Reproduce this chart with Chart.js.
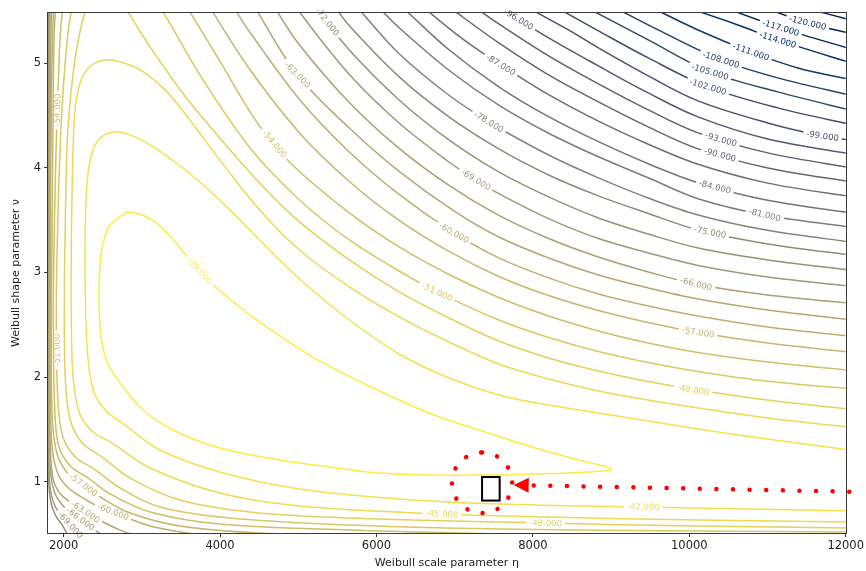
<!DOCTYPE html>
<html>
<head>
<meta charset="utf-8">
<script src="https://cdn.jsdelivr.net/npm/chart.js@4.4.1/dist/chart.umd.min.js"></script>
<style>
  html, body { margin: 0; padding: 0; background: #fff; }
  #wrap { width: 866px; height: 571px; }
</style>
</head>
<body>
<div id="wrap"><canvas id="c" width="866" height="571"></canvas></div>
<script>
// Log-likelihood contour levels of the Weibull fit (scale eta, shape nu)
const levels = [-39, -42, -45, -48, -51, -54, -57, -60, -63, -66, -69, -72, -75, -78, -81, -84,
                -87, -90, -93, -96, -99, -102, -105, -108, -111, -114, -117, -120, -123];

// Contour paths as [eta, nu] pairs
const c39 = [[2812,3.579],[2977,3.559],[3168,3.483],[3359,3.349],[3551,3.177],[3742,3.014],[3971,2.842],[4251,2.670],[4506,2.527],[5143,2.211],[5907,1.915],[6672,1.657],[7309,1.494],[7946,1.342],[8583,1.208],[9003,1.121],[8710,1.093],[8073,1.074],[7309,1.064],[6672,1.064],[6035,1.083],[5398,1.141],[4761,1.208],[3996,1.322],[3398,1.494],[3015,1.686],[2761,1.906],[2557,2.144],[2468,2.450],[2455,2.928],[2493,3.244],[2595,3.454],[2812,3.579]];
const c42 = [[12150,1.294],[11003,1.408],[10112,1.504],[9475,1.580],[8838,1.657],[8201,1.733],[7564,1.829],[6927,1.991],[6290,2.221],[5653,2.546],[5016,2.938],[4506,3.311],[4124,3.598],[3742,3.865],[3423,4.056],[3105,4.219],[2850,4.315],[2633,4.343],[2468,4.286],[2366,4.152],[2302,3.884],[2276,3.406],[2276,2.833],[2302,2.259],[2378,1.877],[2531,1.686],[2786,1.542],[3232,1.303],[3996,1.093],[5016,0.930],[6290,0.835],[7564,0.787],[9347,0.758],[10749,0.739],[12150,0.720]];
const c45 = [[12150,1.513],[11003,1.609],[10112,1.705],[9475,1.781],[8838,1.867],[8201,1.982],[7564,2.125],[6927,2.336],[6290,2.575],[5653,2.862],[5016,3.215],[4506,3.598],[3996,4.076],[3614,4.458],[3296,4.745],[2977,4.936],[2722,5.013],[2557,5.032],[2404,5.003],[2276,4.917],[2187,4.745],[2136,4.458],[2111,3.884],[2098,3.215],[2098,2.546],[2124,1.972],[2213,1.638],[2378,1.475],[2620,1.370],[3105,1.131],[3996,0.892],[5016,0.768],[6837,0.691],[8201,0.663],[10112,0.634],[12150,0.615]];
const c48 = [[12150,1.686],[11003,1.781],[10112,1.877],[9475,1.958],[8838,2.058],[8201,2.183],[7564,2.345],[6927,2.565],[6290,2.814],[5653,3.120],[5016,3.483],[4506,3.856],[3996,4.286],[3551,4.687],[3105,5.156],[2824,5.490],[2659,5.701],[2404,5.701],[2276,5.490],[2187,5.223],[2111,4.840],[2047,4.267],[2022,3.502],[2009,2.737],[2022,1.972],[2085,1.590],[2238,1.370],[2493,1.236],[2850,1.035],[3487,0.825],[4379,0.711],[5653,0.653],[8162,0.605],[10112,0.577],[12150,0.557]];
const c51 = [[12150,1.883],[11003,1.960],[10112,2.054],[9475,2.140],[8838,2.245],[8201,2.379],[7564,2.546],[6774,2.814],[6290,3.014],[5653,3.311],[5016,3.693],[4379,4.195],[3742,4.888],[3270,5.490],[3041,5.720],[2213,5.720],[2098,5.490],[2034,5.127],[1971,4.458],[1933,3.693],[1907,2.737],[1920,1.877],[1983,1.447],[2149,1.236],[2391,1.121],[2722,0.940],[3232,0.758],[4124,0.653],[5653,0.586],[7564,0.548],[10112,0.529],[12150,0.519]];
const c54 = [[12150,2.058],[11003,2.144],[10112,2.235],[9475,2.326],[8838,2.441],[8201,2.584],[7564,2.761],[6927,2.981],[6290,3.244],[5653,3.569],[4888,4.056],[4468,4.439],[3996,5.022],[3614,5.490],[3423,5.720],[2085,5.720],[1983,5.490],[1933,4.840],[1894,3.884],[1869,2.737],[1882,1.781],[1933,1.351],[2085,1.150],[2315,1.035],[2595,0.883],[3105,0.711],[3996,0.596],[5653,0.538],[7564,0.500]];
const c57 = [[12150,2.231],[11003,2.326],[10112,2.426],[9475,2.522],[8838,2.637],[8201,2.780],[7564,2.962],[6927,3.201],[6290,3.497],[5653,3.870],[5016,4.334],[4379,4.942],[3907,5.490],[3742,5.720],[1958,5.720],[1894,5.490],[1869,4.840],[1856,3.693],[1843,2.450],[1856,1.590],[1920,1.255],[2060,1.074],[2251,0.969],[2468,0.854],[2850,0.701],[3487,0.577],[4506,0.510],[6290,0.471]];
const c60 = [[12150,2.383],[11003,2.479],[10112,2.584],[9475,2.680],[8838,2.794],[8201,2.948],[7564,3.139],[6990,3.378],[6290,3.746],[5653,4.152],[5016,4.654],[4379,5.299],[4213,5.490],[4060,5.720],[1894,5.720],[1869,5.490],[1843,4.649],[1831,3.215],[1831,1.781],[1856,1.303],[1933,1.064],[2060,0.940],[2187,0.873],[2404,0.777],[2633,0.711],[3105,0.577],[3742,0.490]];
const c63 = [[12150,2.541],[11003,2.642],[10112,2.747],[9475,2.852],[8838,2.976],[8201,3.139],[7564,3.339],[6990,3.588],[6290,3.966],[5653,4.381],[4990,4.888],[4481,5.490],[4315,5.720],[1869,5.720],[1843,5.490],[1824,4.171],[1818,2.259],[1831,1.303],[1869,1.016],[1971,0.873],[2111,0.796],[2340,0.682],[2722,0.538],[3105,0.443]];
const c66 = [[12150,2.699],[11003,2.785],[10112,2.885],[9475,3.005],[8838,3.148],[8201,3.325],[7564,3.545],[6927,3.832],[6290,4.186],[5653,4.625],[5016,5.175],[4735,5.490],[4570,5.720],[1843,5.720],[1824,5.490],[1811,3.693],[1811,1.590],[1831,1.112],[1882,0.902],[1983,0.777],[2085,0.711],[2340,0.567],[2595,0.443]];
const c69 = [[12150,2.862],[11003,2.957],[10112,3.067],[9475,3.187],[8838,3.324],[8201,3.515],[7564,3.754],[7271,3.886],[6927,4.056],[6290,4.429],[5653,4.893],[5016,5.490],[4824,5.720],[1831,5.720],[1813,5.490],[1808,3.215],[1809,1.208],[1831,0.921],[1894,0.758],[1983,0.672],[2149,0.538],[2340,0.424]];
const c72 = [[12150,3.014],[11003,3.120],[10112,3.234],[9475,3.368],[8838,3.521],[8201,3.722],[7564,3.961],[6927,4.267],[6290,4.649],[5653,5.127],[5271,5.490],[5079,5.720],[1818,5.720],[1806,5.490],[1806,1.112],[1831,0.825],[1894,0.682],[1983,0.586],[2085,0.443]];
const c75 = [[12150,3.158],[11003,3.273],[10112,3.406],[9475,3.564],[8838,3.732],[8201,3.932],[7564,4.181],[6927,4.487],[6290,4.869],[5653,5.357],[5462,5.548]];
const c78 = [[12150,3.282],[11003,3.403],[10112,3.550],[9475,3.712],[8838,3.904],[8201,4.123],[7564,4.381],[7436,4.439],[6927,4.694],[6290,5.091],[5806,5.490],[5716,5.567]];
const c81 = [[12150,3.426],[11003,3.544],[10112,3.705],[9475,3.905],[8838,4.106],[8201,4.331],[7564,4.599],[6927,4.933],[6290,5.339],[6009,5.548]];
const c84 = [[12150,3.561],[11003,3.690],[10112,3.858],[9475,4.039],[8838,4.250],[8201,4.489],[7564,4.775],[6927,5.129],[6395,5.490],[6290,5.557]];
const c87 = [[12150,3.716],[11003,3.854],[10112,4.034],[9475,4.226],[8838,4.446],[8201,4.699],[7589,4.984],[7118,5.223],[6672,5.490],[6570,5.567]];
const c90 = [[12150,3.856],[11003,3.999],[10112,4.181],[9475,4.391],[8838,4.630],[8201,4.888],[7564,5.194],[7016,5.490],[6888,5.567]];
const c93 = [[12150,3.990],[11003,4.143],[10112,4.334],[9475,4.554],[8838,4.802],[8201,5.070],[7564,5.376],[7347,5.490],[7232,5.567]];
const c96 = [[12150,4.123],[11003,4.276],[10112,4.487],[9475,4.716],[8838,4.974],[8201,5.242],[7666,5.490],[7525,5.567]];
const c99 = [[12150,4.257],[11704,4.305],[11003,4.429],[10112,4.640],[9475,4.879],[8838,5.146],[8455,5.318],[7895,5.548]];
const c102 = [[12150,4.401],[11131,4.573],[10239,4.774],[9475,5.051],[8838,5.309],[8264,5.548]];
const c105 = [[12150,4.535],[11131,4.726],[10265,4.917],[9475,5.223],[8646,5.548]];
const c108 = [[12150,4.678],[11131,4.860],[10405,5.032],[9602,5.318],[9003,5.548]];
const c111 = [[12150,4.831],[11386,4.955],[10787,5.108],[10112,5.318],[9475,5.548]];
const c114 = [[12150,4.984],[11131,5.223],[10621,5.366],[9908,5.548]];
const c117 = [[12150,5.118],[11169,5.338],[10392,5.548]];
const c120 = [[12150,5.271],[11513,5.385],[10902,5.548]];
const c123 = [[12150,5.395],[11386,5.548]];

const contours = [c39, c42, c45, c48, c51, c54, c57, c60, c63, c66, c69, c72, c75, c78, c81,
                  c84, c87, c90, c93, c96, c99, c102, c105, c108, c111, c114, c117, c120, c123];

// Inline contour labels: [level, eta, nu]
const contourLabels = [
  [-39,3742,3.014],[-42,9411,0.758],[-45,6837,0.691],[-48,8162,0.605],[-48,10048,1.877],
  [-51,6774,2.814],[-51,1913,2.259],[-54,4697,4.229],[-54,1920,4.554],[-57,10112,2.426],
  [-57,2251,0.969],[-60,6990,3.378],[-60,2633,0.711],[-63,4990,4.888],[-63,2276,0.711],
  [-66,10086,2.890],[-66,2213,0.643],[-69,7271,3.886],[-69,2085,0.586],[-72,5372,5.395],
  [-75,10265,3.384],[-78,7436,4.439],[-81,10965,3.550],[-84,10328,3.817],[-87,7589,4.984],
  [-90,10392,4.124],[-93,10405,4.271],[-96,7818,5.419],[-99,11704,4.305],[-102,10239,4.774],
  [-105,10265,4.917],[-108,10405,5.032],[-111,10787,5.108],[-114,11131,5.223],[-117,11169,5.338],
  [-120,11513,5.385]
];

// Axis ticks
const xTickValues = [2000, 4000, 6000, 8000, 10000, 12000];
const yTickValues = [1, 2, 3, 4, 5];

// Highlight of the fitted optimum: dotted ring, box and arrow (data units)
const ringCentre = [7350, 0.99];
const ringHalfExtent = [385, 0.29];
const fitBox = [7350, 0.82, 7575, 1.045];
const arrowTip = [7755, 0.969];
const arrowTail = [12226, 0.902];

// cividis colour map
const CIVIDIS = ['#00204D','#00336F','#39486B','#575C6D','#707173','#8A8779','#A69D75','#C4B56C','#E4CF5B','#FFEA46'];
function hexRgb(h) { return [1,3,5].map(i => parseInt(h.slice(i, i + 2), 16)); }
function cividis(t) {
  t = Math.max(0, Math.min(1, t));
  const p = t * (CIVIDIS.length - 1);
  const i = Math.min(Math.floor(p), CIVIDIS.length - 2);
  const f = p - i;
  const a = hexRgb(CIVIDIS[i]), b = hexRgb(CIVIDIS[i + 1]);
  const c = a.map((v, k) => Math.round(v + (b[k] - v) * f));
  return `rgb(${c[0]},${c[1]},${c[2]})`;
}
const lvMin = Math.min(...levels), lvMax = Math.max(...levels);
const levelColor = lv => cividis((lv - lvMin) / (lvMax - lvMin));

const LABEL_FONT = '8.5px "DejaVu Sans"';

const datasets = levels.map((lv, i) => ({
  label: String(lv),
  data: contours[i].map(([x, y]) => ({ x, y })),
  showLine: true,
  pointRadius: 0,
  pointHoverRadius: 0,
  borderColor: levelColor(lv),
  borderWidth: 1.5,
  tension: 0.35,
  capBezierPoints: false,
  fill: false,
  clip: 0
}));

const contourDecor = {
  id: 'contourDecor',
  beforeDatasetsDraw(chart) {
    const xs = chart.scales.x, ys = chart.scales.y, ctx = chart.ctx;
    ctx.save();
    ctx.font = LABEL_FONT;
    chart.$labelBoxes = contourLabels.map(([lv, lx, ly]) => {
      const di = levels.indexOf(lv);
      const pts = contours[di].map(([a, b]) => [xs.getPixelForValue(a), ys.getPixelForValue(b)]);
      const px = xs.getPixelForValue(lx), py = ys.getPixelForValue(ly);
      let best = Infinity, ang = 0;
      for (let i = 0; i < pts.length - 1; i++) {
        const [x1, y1] = pts[i], [x2, y2] = pts[i + 1];
        const dx = x2 - x1, dy = y2 - y1, len2 = dx * dx + dy * dy || 1;
        let t = ((px - x1) * dx + (py - y1) * dy) / len2;
        t = Math.max(0, Math.min(1, t));
        const qx = x1 + t * dx, qy = y1 + t * dy;
        const d = (qx - px) ** 2 + (qy - py) ** 2;
        if (d < best) { best = d; ang = Math.atan2(dy, dx); }
      }
      if (ang > Math.PI / 2) ang -= Math.PI;
      if (ang <= -Math.PI / 2) ang += Math.PI;
      if (Math.abs(Math.abs(ang) - Math.PI / 2) < 0.02) ang = -Math.PI / 2;
      const text = lv.toFixed(3);
      const w = ctx.measureText(text).width;
      return { di, px, py, ang, w, text, color: levelColor(lv) };
    });
    ctx.restore();
    chart.$clipped = {};
  },
  beforeDatasetDraw(chart, args) {
    const boxes = (chart.$labelBoxes || []).filter(b => b.di === args.index);
    if (!boxes.length) return;
    const ctx = chart.ctx;
    ctx.save();
    ctx.beginPath();
    ctx.rect(0, 0, chart.width, chart.height);
    boxes.forEach(b => {
      const c = Math.cos(b.ang), s = Math.sin(b.ang);
      const hw = b.w / 2 + 3, hh = 5;
      const corners = [[-hw, -hh], [hw, -hh], [hw, hh], [-hw, hh]]
        .map(([u, v]) => [b.px + u * c - v * s, b.py + u * s + v * c]);
      ctx.moveTo(corners[0][0], corners[0][1]);
      for (let k = 1; k < 4; k++) ctx.lineTo(corners[k][0], corners[k][1]);
      ctx.closePath();
    });
    ctx.clip('evenodd');
    chart.$clipped[args.index] = true;
  },
  afterDatasetDraw(chart, args) {
    if (chart.$clipped && chart.$clipped[args.index]) {
      chart.ctx.restore();
      chart.$clipped[args.index] = false;
    }
  },
  afterDatasetsDraw(chart) {
    const ctx = chart.ctx, xs = chart.scales.x, ys = chart.scales.y, area = chart.chartArea;

    // contour labels
    ctx.save();
    ctx.font = LABEL_FONT;
    ctx.textAlign = 'center';
    ctx.textBaseline = 'middle';
    chart.$labelBoxes.forEach(b => {
      ctx.save();
      ctx.translate(b.px, b.py);
      ctx.rotate(b.ang);
      ctx.fillStyle = b.color;
      ctx.fillText(b.text, 0, 0.5);
      ctx.restore();
    });
    ctx.restore();

    // axes frame
    ctx.save();
    ctx.strokeStyle = '#3a3a3a';
    ctx.lineWidth = 1;
    ctx.strokeRect(Math.round(area.left) - 0.5, Math.round(area.top) - 0.5,
                   Math.round(area.right - area.left) + 1, Math.round(area.bottom - area.top) + 1);
    ctx.restore();

    // dotted ring around the optimum
    const cx = xs.getPixelForValue(ringCentre[0]), cy = ys.getPixelForValue(ringCentre[1]);
    const rx = Math.abs(xs.getPixelForValue(ringCentre[0] + ringHalfExtent[0]) - cx);
    const ry = Math.abs(ys.getPixelForValue(ringCentre[1] + ringHalfExtent[1]) - cy);
    ctx.save();
    ctx.strokeStyle = '#ff0000';
    ctx.lineWidth = 4.5;
    ctx.lineCap = 'round';
    ctx.setLineDash([0.01, 15.7]);
    ctx.beginPath();
    ctx.ellipse(cx, cy, rx, ry, 0, -Math.PI / 2, 1.5 * Math.PI);
    ctx.stroke();
    ctx.restore();

    // box at the optimum
    const bx1 = xs.getPixelForValue(fitBox[0]), by1 = ys.getPixelForValue(fitBox[1]);
    const bx2 = xs.getPixelForValue(fitBox[2]), by2 = ys.getPixelForValue(fitBox[3]);
    ctx.save();
    ctx.strokeStyle = '#000';
    ctx.lineWidth = 2;
    ctx.strokeRect(Math.min(bx1, bx2), Math.min(by1, by2), Math.abs(bx2 - bx1), Math.abs(by2 - by1));
    ctx.restore();

    // dotted arrow pointing at the ring
    const tx = xs.getPixelForValue(arrowTip[0]), ty = ys.getPixelForValue(arrowTip[1]);
    const ex = xs.getPixelForValue(arrowTail[0]), ey = ys.getPixelForValue(arrowTail[1]);
    const len = Math.hypot(ex - tx, ey - ty);
    const ux = (ex - tx) / len, uy = (ey - ty) / len;
    const headLen = 15, headHalf = 7.5;
    const hbx = tx + ux * headLen, hby = ty + uy * headLen;
    ctx.save();
    ctx.fillStyle = '#ff0000';
    ctx.beginPath();
    ctx.moveTo(tx, ty);
    ctx.lineTo(hbx - uy * headHalf, hby + ux * headHalf);
    ctx.lineTo(hbx + uy * headHalf, hby - ux * headHalf);
    ctx.closePath();
    ctx.fill();
    ctx.strokeStyle = '#ff0000';
    ctx.lineWidth = 4.5;
    ctx.lineCap = 'round';
    ctx.setLineDash([0.01, 16.6]);
    ctx.beginPath();
    ctx.moveTo(hbx + ux * 5, hby + uy * 5);
    ctx.lineTo(ex, ey);
    ctx.stroke();
    ctx.restore();
  }
};

const tickFont = { family: 'DejaVu Sans', size: 11.5 };
const titleFont = { family: 'DejaVu Sans', size: 11 };

new Chart(document.getElementById('c'), {
  type: 'scatter',
  data: { datasets },
  options: {
    responsive: false,
    animation: false,
    events: [],
    layout: { padding: { top: 13, right: 18, bottom: 0, left: 0 } },
    plugins: { legend: { display: false }, tooltip: { enabled: false } },
    scales: {
      x: {
        type: 'linear',
        min: 1800, max: 12000,
        afterBuildTicks: s => { s.ticks = xTickValues.map(v => ({ value: v })); },
        afterFit: s => { s.height = 38; },
        ticks: { callback: v => String(v), font: tickFont, color: '#222', padding: 2, maxRotation: 0, autoSkip: false },
        grid: { drawOnChartArea: false, drawTicks: true, tickLength: 4, tickColor: '#333', tickWidth: 1 },
        border: { display: false },
        title: { display: true, text: 'Weibull scale parameter η', font: titleFont, color: '#222', padding: { top: 0, bottom: 1 } }
      },
      y: {
        type: 'linear',
        min: 0.51, max: 5.48,
        afterBuildTicks: s => { s.ticks = yTickValues.map(v => ({ value: v })); },
        afterFit: s => { s.width = 48; },
        ticks: { callback: v => String(v), font: tickFont, color: '#222', padding: 3, autoSkip: false },
        grid: { drawOnChartArea: false, drawTicks: true, tickLength: 4, tickColor: '#333', tickWidth: 1 },
        border: { display: false },
        title: { display: true, text: 'Weibull shape parameter ν', font: titleFont, color: '#222', padding: { top: 10, bottom: 0 } }
      }
    }
  },
  plugins: [contourDecor]
});
</script>
</body>
</html>
